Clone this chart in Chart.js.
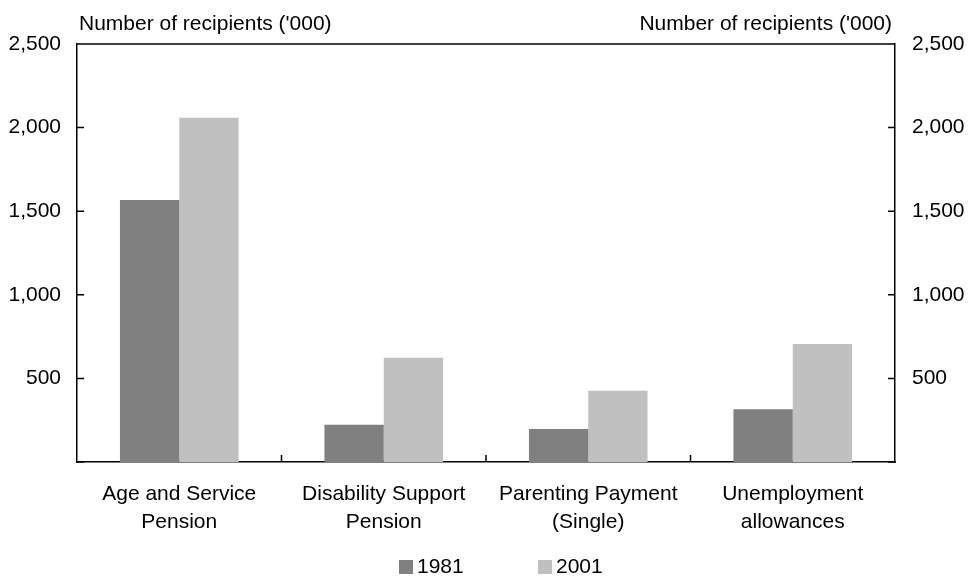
<!DOCTYPE html>
<html>
<head>
<meta charset="UTF-8">
<script src="https://cdn.jsdelivr.net/npm/chart.js"></script>
<style>
  body { margin: 0; background: #fff; }
  #wrap { width: 968px; height: 580px; }
</style>
</head>
<body>
<div id="wrap"><canvas id="chart" width="968" height="580"></canvas></div>
<script>
// Data ('000 recipients)
const categories = [
    ['Age and Service', 'Pension'],
    ['Disability Support', 'Pension'],
    ['Parenting Payment', '(Single)'],
    ['Unemployment', 'allowances']
];
const years = ['1981', '2001'];
const values1981 = [1567, 223, 197, 315];
const values2001 = [2059, 624, 426, 706];
const yTicks = [0, 500, 1000, 1500, 2000, 2500];
const axisTitle = "Number of recipients ('000)";

const colors = ['#808080', '#c0c0c0'];
const fontFamily = '"Liberation Sans", Arial, sans-serif';

Chart.defaults.font.family = fontFamily;
Chart.defaults.font.size = 21;
Chart.defaults.color = '#000';

// inward tick marks, top border, axis titles and legend
const decorations = {
    id: 'decorations',
    afterDraw(chart) {
        const ctx = chart.ctx;
        const area = chart.chartArea;
        const y = chart.scales.y;
        const x = chart.scales.x;
        ctx.save();
        ctx.strokeStyle = '#000';
        ctx.lineWidth = 1.5;
        ctx.beginPath();
        // top border
        ctx.moveTo(area.left, area.top);
        ctx.lineTo(area.right, area.top);
        // y ticks on both sides, pointing inward
        yTicks.forEach(v => {
            const py = y.getPixelForValue(v);
            ctx.moveTo(area.left, py);
            ctx.lineTo(area.left + 7, py);
            ctx.moveTo(area.right, py);
            ctx.lineTo(area.right - 7, py);
        });
        // category separators on x axis
        for (let i = 0; i < categories.length - 1; i++) {
            const px = (x.getPixelForValue(i) + x.getPixelForValue(i + 1)) / 2;
            ctx.moveTo(px, area.bottom);
            ctx.lineTo(px, area.bottom - 7);
        }
        ctx.stroke();

        // axis titles
        ctx.fillStyle = '#000';
        ctx.font = '21px ' + fontFamily;
        ctx.textBaseline = 'middle';
        ctx.textAlign = 'left';
        ctx.fillText(axisTitle, area.left + 2, 24);
        ctx.textAlign = 'right';
        ctx.fillText(axisTitle, area.right - 3, 24);

        // legend
        const legendX = [399, 538];
        chart.data.datasets.forEach((ds, i) => {
            ctx.fillStyle = ds.backgroundColor;
            ctx.fillRect(legendX[i], 560, 14, 14);
            ctx.fillStyle = '#000';
            ctx.textAlign = 'left';
            ctx.fillText(ds.label, legendX[i] + 18, 567);
        });
        ctx.restore();
    }
};

new Chart(document.getElementById('chart'), {
    type: 'bar',
    data: {
        labels: categories,
        datasets: [
            { label: years[0], data: values1981, backgroundColor: colors[0] },
            { label: years[1], data: values2001, backgroundColor: colors[1] }
        ]
    },
    options: {
        responsive: false,
        animation: false,
        devicePixelRatio: 1,
        layout: { padding: { top: 44, right: 0, bottom: 38, left: 0 } },
        datasets: {
            bar: { categoryPercentage: 0.58, barPercentage: 1.0, borderWidth: 0 }
        },
        plugins: {
            legend: { display: false },
            tooltip: { enabled: false }
        },
        scales: {
            x: {
                grid: { display: false, drawTicks: false },
                border: { display: true, color: '#000', width: 1.5 },
                ticks: { padding: 19, maxRotation: 0, autoSkip: false, font: { size: 21, lineHeight: 1.3 } },
                afterFit(s) { s.height = 80; }
            },
            y: {
                position: 'left',
                min: 0, max: 2500,
                afterBuildTicks(s) { s.ticks = yTicks.map(v => ({ value: v })); },
                grid: { display: false, drawTicks: false },
                border: { display: true, color: '#000', width: 1.5 },
                ticks: {
                    padding: 16,
                    callback: v => v === 0 ? '' : v.toLocaleString('en-US')
                },
                afterFit(s) { s.width = 77; }
            },
            y2: {
                position: 'right',
                min: 0, max: 2500,
                afterBuildTicks(s) { s.ticks = yTicks.map(v => ({ value: v })); },
                grid: { display: false, drawTicks: false },
                border: { display: true, color: '#000', width: 1.5 },
                ticks: {
                    padding: 17,
                    callback: v => v === 0 ? '' : v.toLocaleString('en-US')
                },
                afterFit(s) { s.width = 73; }
            }
        }
    },
    plugins: [decorations]
});
</script>
</body>
</html>
